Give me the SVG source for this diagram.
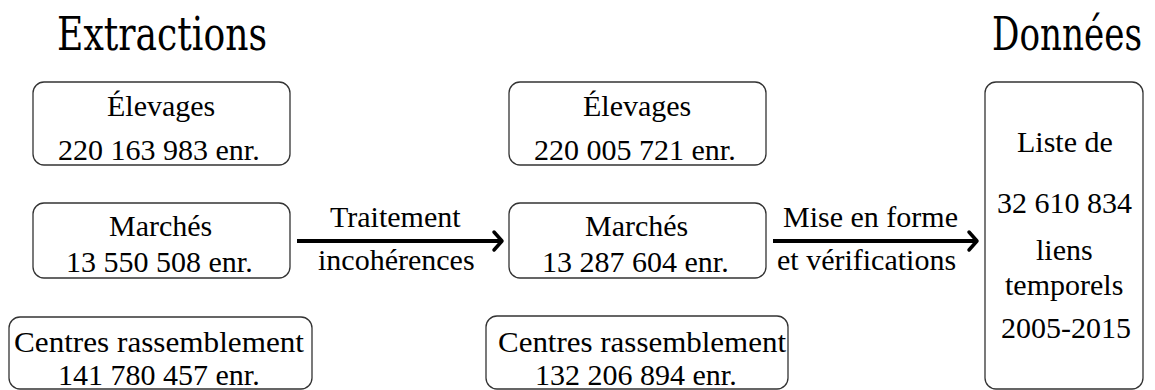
<svg xmlns="http://www.w3.org/2000/svg" width="1155" height="390" viewBox="0 0 1155 390">
<style>
  .box { fill: #ffffff; stroke: #333333; stroke-width: 1.3; }
  .arr { stroke: #000; stroke-width: 4.2; fill: none; }
  .head { stroke: #000; stroke-width: 3.5; fill: none; stroke-linecap: round; stroke-linejoin: round; }
</style>
<rect width="1155" height="390" fill="#ffffff"/>
<g id="title-extractions" font-family="DejaVu Serif"><text font-family="DejaVu Serif" font-size="46" x="57" y="50" textLength="210" lengthAdjust="spacingAndGlyphs">Extractions</text></g>
<g id="title-donnees" font-family="DejaVu Serif"><text font-family="DejaVu Serif" font-size="46" x="992" y="50" textLength="150" lengthAdjust="spacingAndGlyphs">Données</text></g>

<g id="elevages-ext" font-family="Liberation Serif" font-size="30">
  <rect class="box" x="33" y="82" width="257" height="83" rx="11"/>
  <text font-family="Liberation Serif" font-size="30" x="107" y="116">Élevages</text>
  <text font-family="Liberation Serif" font-size="30" x="58" y="160">220 163 983 enr.</text>
</g>
<g id="marches-ext" font-family="Liberation Serif" font-size="30">
  <rect class="box" x="33" y="203" width="257" height="75" rx="11"/>
  <text font-family="Liberation Serif" font-size="30" x="109" y="236">Marchés</text>
  <text font-family="Liberation Serif" font-size="30" x="66" y="272">13 550 508 enr.</text>
</g>
<g id="centres-ext" font-family="Liberation Serif" font-size="30">
  <rect class="box" x="9" y="317" width="303" height="72" rx="11"/>
  <text font-family="Liberation Serif" font-size="30" x="14" y="352" textLength="290" lengthAdjust="spacingAndGlyphs">Centres rassemblement</text>
  <text font-family="Liberation Serif" font-size="30" x="58" y="385">141 780 457 enr.</text>
</g>

<g id="elevages-mid" font-family="Liberation Serif" font-size="30">
  <rect class="box" x="509" y="82" width="257" height="83" rx="11"/>
  <text font-family="Liberation Serif" font-size="30" x="583" y="116">Élevages</text>
  <text font-family="Liberation Serif" font-size="30" x="534" y="160">220 005 721 enr.</text>
</g>
<g id="marches-mid" font-family="Liberation Serif" font-size="30">
  <rect class="box" x="509" y="203" width="257" height="75" rx="11"/>
  <text font-family="Liberation Serif" font-size="30" x="585" y="236">Marchés</text>
  <text font-family="Liberation Serif" font-size="30" x="542" y="272">13 287 604 enr.</text>
</g>
<g id="centres-mid" font-family="Liberation Serif" font-size="30">
  <rect class="box" x="486" y="316" width="302" height="73" rx="11"/>
  <text font-family="Liberation Serif" font-size="30" x="498" y="352" textLength="288" lengthAdjust="spacingAndGlyphs">Centres rassemblement</text>
  <text font-family="Liberation Serif" font-size="30" x="535" y="385">132 206 894 enr.</text>
</g>

<g id="donnees" font-family="Liberation Serif" font-size="30">
  <rect class="box" x="985" y="82" width="158" height="307" rx="11"/>
  <text font-family="Liberation Serif" font-size="30" x="1017" y="152">Liste de</text>
  <text font-family="Liberation Serif" font-size="30" x="997" y="213">32 610 834</text>
  <text font-family="Liberation Serif" font-size="30" x="1036" y="260">liens</text>
  <text font-family="Liberation Serif" font-size="30" x="1005" y="295">temporels</text>
  <text font-family="Liberation Serif" font-size="30" x="1001" y="338">2005-2015</text>
</g>

<g id="connectors" font-family="Liberation Serif" font-size="30">
  <g id="arrow-traitement">
    <line class="arr" x1="297" y1="241" x2="500" y2="241"/>
    <path class="head" d="M494,232 L502,241 L494,250"/>
    <text font-family="Liberation Serif" font-size="30" x="330" y="227">Traitement</text>
    <text font-family="Liberation Serif" font-size="30" x="318" y="270">incohérences</text>
  </g>
  <g id="arrow-mise-en-forme">
    <line class="arr" x1="773" y1="241" x2="975" y2="241"/>
    <path class="head" d="M969,232 L977,241 L969,250"/>
    <text font-family="Liberation Serif" font-size="30" x="783" y="227">Mise en forme</text>
    <text font-family="Liberation Serif" font-size="30" x="777" y="270">et vérifications</text>
  </g>
</g>
</svg>
